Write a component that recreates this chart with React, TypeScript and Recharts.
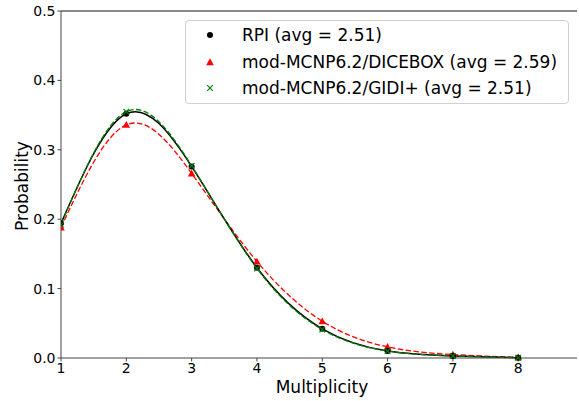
import React from 'react';
import { ComposedChart, Line, XAxis, YAxis, ReferenceLine } from 'recharts';

const multiplicity = [1, 2, 3, 4, 5, 6, 7, 8];
const rpi = [0.194, 0.352, 0.276, 0.13, 0.042, 0.01, 0.003, 0.0005];
const dicebox = [0.188, 0.336, 0.266, 0.139, 0.053, 0.016, 0.005, 0.001];
const gidi = [0.192, 0.355, 0.277, 0.129, 0.041, 0.01, 0.003, 0.0005];
const xTicks = [1, 2, 3, 4, 5, 6, 7, 8];
const yTicks = [0, 0.1, 0.2, 0.3, 0.4, 0.5];
const seriesNames = [
  'RPI (avg = 2.51)',
  'mod-MCNP6.2/DICEBOX (avg = 2.59)',
  'mod-MCNP6.2/GIDI+ (avg = 2.51)',
];
const xLabel = 'Multiplicity';
const yLabel = 'Probability';

const data = multiplicity.map((m, i) => ({ m, rpi: rpi[i], dicebox: dicebox[i], gidi: gidi[i] }));

const FONT = 'DejaVu Sans';

const CircleDot = (p: any) =>
  p.cx == null ? <g key={p.index} /> : <circle key={p.index} cx={p.cx} cy={p.cy} r={3} fill="#000" />;

const TriDot = (p: any) => {
  if (p.cx == null) return <g key={p.index} />;
  const { cx, cy } = p;
  const s = 3.8;
  return (
    <path key={p.index} d={`M${cx},${cy - s}L${cx + s},${cy + s * 0.8}L${cx - s},${cy + s * 0.8}Z`} fill="#ff0000" />
  );
};

const CrossDot = (p: any) => {
  if (p.cx == null) return <g key={p.index} />;
  const { cx, cy } = p;
  const s = 2.8;
  return (
    <path
      key={p.index}
      d={`M${cx - s},${cy - s}L${cx + s},${cy + s}M${cx - s},${cy + s}L${cx + s},${cy - s}`}
      stroke="#008000"
      strokeWidth={1.2}
      fill="none"
    />
  );
};

const AxisText = (props: any) => (
  <text
    x={props.px}
    y={props.py}
    textAnchor="middle"
    dominantBaseline="central"
    transform={props.rot ? `rotate(-90 ${props.px} ${props.py})` : undefined}
    fontFamily={FONT}
    fontSize={17}
    fill="#000"
  >
    {props.txt}
  </text>
);

const LegendBox = () => {
  const rows = [35 - 20, 62 - 20, 88 - 20];
  return (
    <div
      style={{
        position: 'absolute',
        left: 185,
        top: 20,
        width: 384,
        height: 84,
        border: '1px solid #d0d0d0',
        borderRadius: 4,
        background: 'rgba(255,255,255,0.8)',
        boxSizing: 'border-box',
      }}
    >
      <svg width={382} height={82} style={{ display: 'block' }}>
        <circle cx={24} cy={rows[0] - 1} r={3} fill="#000" />
        <path d={`M24,${rows[1] - 4.8}L27.8,${rows[1] + 2.2}L20.2,${rows[1] + 2.2}Z`} fill="#ff0000" />
        <path
          d={`M21.2,${rows[2] - 3.8}L26.8,${rows[2] + 1.8}M21.2,${rows[2] + 1.8}L26.8,${rows[2] - 3.8}`}
          stroke="#008000"
          strokeWidth={1.2}
        />
        {seriesNames.map((n, i) => (
          <text
            key={n}
            x={56}
            y={rows[i] - 1}
            dominantBaseline="central"
            fontFamily={FONT}
            fontSize={17}
            fill="#000"
          >
            {n}
          </text>
        ))}
      </svg>
    </div>
  );
};

export default function App() {
  return (
    <div style={{ position: 'absolute', left: 0, top: 0, width: 579, height: 401, background: '#fff' }}>
      <ComposedChart width={579} height={401} data={data} margin={{ top: 11, right: 2, left: 0, bottom: 0 }}>
        <XAxis
          dataKey="m"
          type="number"
          domain={[1, 8.9]}
          ticks={xTicks}
          allowDataOverflow
          height={43}
          stroke="#444"
          tickSize={3.5}
          tickMargin={2}
          tick={{ fontFamily: FONT, fontSize: 14, fill: '#000' }}
          label={<AxisText px={322} py={387} txt={xLabel} />}
        />
        <YAxis
          type="number"
          domain={[0, 0.5]}
          ticks={yTicks}
          width={61}
          stroke="#444"
          tickSize={3.5}
          tickMargin={2}
          tickFormatter={(v: number) => v.toFixed(1)}
          tick={{ fontFamily: FONT, fontSize: 14, fill: '#000' }}
          label={<AxisText px={22} py={186} rot txt={yLabel} />}
        />
        <ReferenceLine y={0.5} stroke="#111" strokeWidth={1.2} />
        <Line
          dataKey="dicebox"
          type="natural"
          stroke="#ff0000"
          strokeWidth={1.3}
          strokeDasharray="5.5 2.4"
          dot={TriDot}
          activeDot={false}
          isAnimationActive={false}
        />
        <Line
          dataKey="rpi"
          type="natural"
          stroke="#000"
          strokeWidth={1.5}
          dot={CircleDot}
          activeDot={false}
          isAnimationActive={false}
        />
        <Line
          dataKey="gidi"
          type="natural"
          stroke="#008000"
          strokeWidth={1.3}
          strokeDasharray="5.5 2.4"
          dot={CrossDot}
          activeDot={false}
          isAnimationActive={false}
        />
      </ComposedChart>
      <LegendBox />
    </div>
  );
}
